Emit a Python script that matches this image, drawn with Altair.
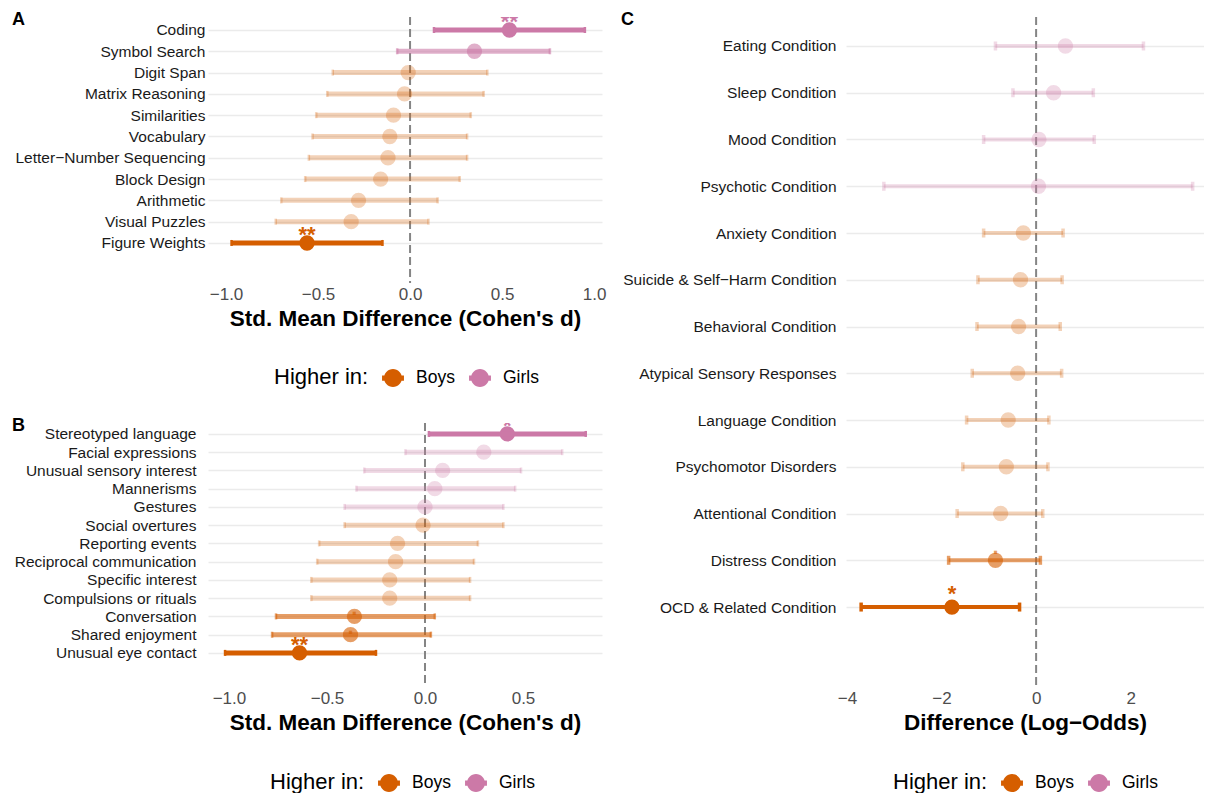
import json
import altair as alt
import pandas as pd

FONT = "Liberation Sans"
BOYS = "#D55E00"
GIRLS = "#CC79A7"

# ---------------- Panel A : WISC subtests (Cohen's d) ----------------
A_labels = ["Coding", "Symbol Search", "Digit Span", "Matrix Reasoning", "Similarities",
            "Vocabulary", "Letter\u2212Number Sequencing", "Block Design", "Arithmetic",
            "Visual Puzzles", "Figure Weights"]
A_est = [0.54, 0.35, -0.01, -0.03, -0.09, -0.11, -0.12, -0.16, -0.28, -0.32, -0.56]
A_lo = [0.13, -0.07, -0.42, -0.45, -0.51, -0.53, -0.55, -0.57, -0.70, -0.73, -0.97]
A_hi = [0.95, 0.76, 0.42, 0.40, 0.33, 0.31, 0.31, 0.27, 0.15, 0.10, -0.15]
A_higher = ["Girls", "Girls", "Boys", "Boys", "Boys", "Boys", "Boys", "Boys", "Boys", "Boys", "Boys"]
A_tier = ["strong", "trend", "ns", "ns", "ns", "ns", "ns", "ns", "ns", "ns", "strong"]
A_mark = ["**", "", "", "", "", "", "", "", "", "", "**"]

# ---------------- Panel B : ADOS items (Cohen's d) ----------------
B_labels = ["Stereotyped language", "Facial expressions", "Unusual sensory interest", "Mannerisms",
            "Gestures", "Social overtures", "Reporting events", "Reciprocal communication",
            "Specific interest", "Compulsions or rituals", "Conversation", "Shared enjoyment",
            "Unusual eye contact"]
B_est = [0.42, 0.30, 0.09, 0.05, 0.00, -0.01, -0.14, -0.15, -0.18, -0.18, -0.36, -0.38, -0.64]
B_lo = [0.02, -0.10, -0.31, -0.35, -0.41, -0.41, -0.54, -0.55, -0.58, -0.58, -0.76, -0.78, -1.02]
B_hi = [0.82, 0.70, 0.49, 0.46, 0.40, 0.40, 0.27, 0.25, 0.23, 0.23, 0.05, 0.03, -0.25]
B_higher = ["Girls", "Girls", "Girls", "Girls", "Girls", "Boys", "Boys", "Boys", "Boys", "Boys",
            "Boys", "Boys", "Boys"]
B_tier = ["strong", "ns", "ns", "ns", "ns", "ns", "ns", "ns", "ns", "ns", "trend", "trend", "strong"]
B_mark = ["*", "", "", "", "", "", "", "", "", "", ".", ".", "**"]

# ---------------- Panel C : co-occurring conditions (log-odds) ----------------
C_labels = ["Eating Condition", "Sleep Condition", "Mood Condition", "Psychotic Condition",
            "Anxiety Condition", "Suicide & Self\u2212Harm Condition", "Behavioral Condition",
            "Atypical Sensory Responses", "Language Condition", "Psychomotor Disorders",
            "Attentional Condition", "Distress Condition", "OCD & Related Condition"]
C_est = [0.62, 0.37, 0.06, 0.05, -0.27, -0.33, -0.37, -0.39, -0.59, -0.63, -0.75, -0.86, -1.78]
C_lo = [-0.86, -0.49, -1.11, -3.22, -1.11, -1.23, -1.25, -1.35, -1.47, -1.55, -1.67, -1.85, -3.70]
C_hi = [2.27, 1.21, 1.23, 3.31, 0.57, 0.55, 0.51, 0.54, 0.27, 0.25, 0.14, 0.09, -0.35]
C_higher = ["Girls", "Girls", "Girls", "Girls", "Boys", "Boys", "Boys", "Boys", "Boys", "Boys",
            "Boys", "Boys", "Boys"]
C_tier = ["ns", "ns", "ns", "ns", "ns", "ns", "ns", "ns", "ns", "ns", "ns", "trend", "strong"]
C_mark = ["", "", "", "", "", "", "", "", "", "", "", ".", "*"]

GROUPS = ["Boys", "Girls"]
TIERS = ["strong", "trend", "ns"]
KEY = "M-1,-0.24H1V0.24H-1Z M0.82,0A0.82,0.82,0,1,1,-0.82,0A0.82,0.82,0,1,1,0.82,0Z"


def panel(labels, est, lo, hi, higher, tier, mark, *, xdom, xvals, xfmt, ydom, w, h,
          letter, letter_x, letter_y, xtitle, lx, ly, bar_w, cap_size, cap_w, star_dy, lpad):
    n = len(labels)
    df = pd.DataFrame(dict(row=list(range(n)), label=labels, est=est, lo=lo, hi=hi,
                           higher=higher, tier=tier, mark=mark))
    arr = json.dumps(labels, ensure_ascii=False)
    yaxis = alt.Axis(values=list(range(n)), labelExpr=f"{arr}[datum.value]", title=None,
                     grid=True, gridColor="#EBEBEB", gridWidth=1.5, ticks=False, domain=False,
                     labelFont=FONT, labelFontSize=15.5, labelColor="#1A1A1A", labelPadding=lpad,
                     labelLimit=400, labelOverlap=False)
    yscale = alt.Scale(domain=ydom, reverse=True, nice=False, zero=False)
    Y = alt.Y("row:Q", scale=yscale, axis=yaxis)
    xscale = alt.Scale(domain=xdom, nice=False, zero=False)
    xaxis = alt.Axis(values=xvals,
                     labelExpr=f"replace(format(datum.value, '{xfmt}'), '-', '\u2212')",
                     title=xtitle, grid=False, ticks=False, domain=False, labelFont=FONT,
                     labelFontSize=17, labelColor="#4D4D4D", labelPadding=3, labelFlush=False,
                     titleFont=FONT, titleFontSize=22.5, titleFontWeight="bold",
                     titleColor="#000000", titlePadding=5)

    def X(field):
        return alt.X(f"{field}:Q", scale=xscale, axis=xaxis)

    cscale = alt.Scale(domain=GROUPS, range=[BOYS, GIRLS])
    CL = alt.Color("higher:N", scale=cscale, legend=alt.Legend(
        orient="none", legendX=lx, legendY=ly, direction="horizontal", title="Higher in:",
        titleOrient="left", titleFont=FONT, titleFontSize=22, titleFontWeight="normal",
        titleColor="#000000", titlePadding=13, labelFont=FONT, labelFontSize=17.5,
        labelColor="#000000", labelOffset=12, columnPadding=14, symbolType=KEY,
        symbolSize=480, symbolOpacity=1, symbolStrokeWidth=0))
    O = alt.Opacity("tier:N", scale=alt.Scale(type="ordinal", domain=TIERS,
                                              range=[1.0, 0.6, 0.28]), legend=None)

    base = alt.Chart(df)
    zero = alt.Chart(pd.DataFrame({"zero": [0.0]})).mark_rule(
        color="#858585", strokeDash=[8, 4], strokeWidth=2).encode(x=X("zero"))
    pts = base.mark_circle(size=235).encode(x=X("est"), y=Y, color=CL, opacity=O)
    bars = base.mark_rule(strokeWidth=bar_w).encode(x=X("lo"), x2="hi:Q", y=Y, color=CL, opacity=O)
    cap_lo = base.mark_tick(orient="vertical", size=cap_size, thickness=cap_w).encode(
        x=X("lo"), y=Y, color=CL, opacity=O)
    cap_hi = base.mark_tick(orient="vertical", size=cap_size, thickness=cap_w).encode(
        x=X("hi"), y=Y, color=CL, opacity=O)
    stars = base.mark_text(font=FONT, fontSize=22, fontWeight="bold", baseline="alphabetic",
                           dy=star_dy, clip=True).encode(
        x=X("est"), y=Y, text="mark:N", color=CL, opacity=O)
    let = alt.Chart(pd.DataFrame({"t": [letter]})).mark_text(
        font=FONT, fontSize=18, fontWeight="bold", align="left", baseline="top",
        color="#000000").encode(x=alt.value(letter_x), y=alt.value(letter_y), text="t:N")
    return alt.layer(zero, pts, bars, cap_lo, cap_hi, stars, let).properties(width=w, height=h)


A = panel(A_labels, A_est, A_lo, A_hi, A_higher, A_tier, A_mark,
          xdom=[-1.098, 1.043], xvals=[-1.0, -0.5, 0.0, 0.5, 1.0], xfmt=".1f",
          ydom=[-0.61, 11.88], w=394, h=266, letter="A", letter_x=-196, letter_y=-6,
          xtitle="Std. Mean Difference (Cohen's d)", lx=66, ly=350,
          bar_w=5, cap_size=6, cap_w=2.5, star_dy=-1, lpad=3)
B = panel(B_labels, B_est, B_lo, B_hi, B_higher, B_tier, B_mark,
          xdom=[-1.107, 0.903], xvals=[-1.0, -0.5, 0.0, 0.5], xfmt=".1f",
          ydom=[-0.6, 13.87], w=394, h=264, letter="B", letter_x=-196, letter_y=-6,
          xtitle="Std. Mean Difference (Cohen's d)", lx=62, ly=349,
          bar_w=5, cap_size=6, cap_w=2.5, star_dy=-1, lpad=12)
C = panel(C_labels, C_est, C_lo, C_hi, C_higher, C_tier, C_mark,
          xdom=[-4.02, 3.55], xvals=[-4, -2, 0, 2], xfmt="d",
          ydom=[-0.62, 13.71], w=358, h=670, letter="C", letter_x=-225, letter_y=-6,
          xtitle="Difference (Log\u2212Odds)", lx=47, ly=755,
          bar_w=4, cap_size=9, cap_w=3.5, star_dy=-6, lpad=10)

left = alt.vconcat(A, B, spacing=140, bounds="flush").resolve_scale(
    x="independent", y="independent", color="independent", opacity="independent"
).resolve_legend(color="independent")

chart = alt.hconcat(left, C, spacing=638, bounds="flush").resolve_scale(
    x="independent", y="independent", color="independent", opacity="independent"
).resolve_legend(color="independent").properties(
    padding={"left": 12, "top": 11, "right": 0, "bottom": 0}, background="white"
).configure_view(stroke="transparent", strokeWidth=0)

chart.save("out.html", embed_options={"renderer": "svg", "actions": False})
